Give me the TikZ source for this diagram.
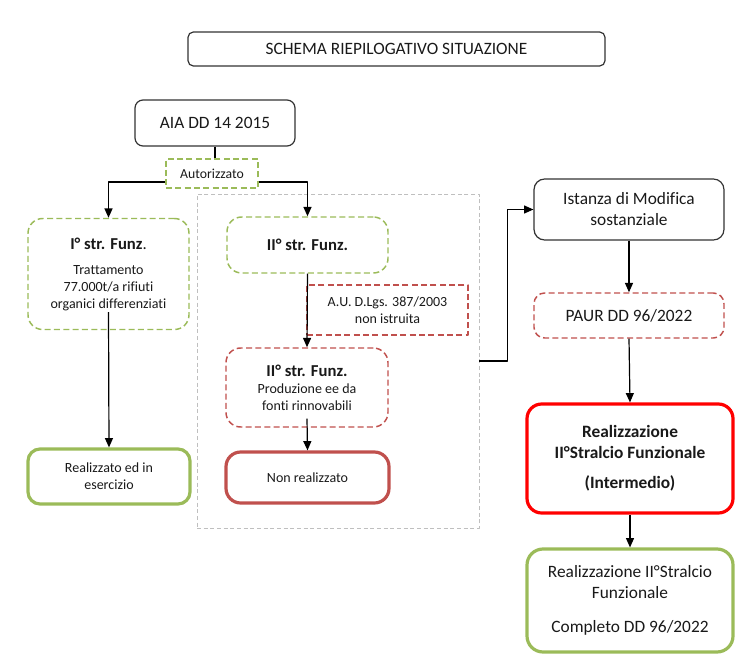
\documentclass[tikz,border=0pt]{standalone}
\usepackage{fontspec}
\setmainfont{Carlito}[Ligatures=NoCommon]
\usetikzlibrary{arrows.meta}
\definecolor{verde}{HTML}{9BBB59}
\definecolor{rosso}{HTML}{C0504D}
\definecolor{grigio}{HTML}{BFBFBF}
\begin{document}
\begin{tikzpicture}[x=0.75pt, y=-0.75pt, line join=round, >={Triangle[length=7pt,width=6pt]},
	font=\fontsize{10.5}{12.75}\selectfont,
	bsize/.style 2 args={minimum width=#1*0.75pt, minimum height=#2*0.75pt},
	base/.style={align=center, inner sep=0pt, text=black!90},
	nero/.style={base, draw=black!80, line width=0.9pt, rounded corners=6pt},
	verdetr/.style={base, draw=verde, line width=1.1pt, dash pattern=on 4.5pt off 2.5pt},
	rossotr/.style={base, draw=rosso, line width=1.1pt, dash pattern=on 4.5pt off 2.5pt},
	verdepieno/.style={base, draw=verde, line width=2.4pt, rounded corners=9pt},
	rossopieno/.style={base, draw=#1, line width=2.4pt, rounded corners=11pt},
	grande/.style={font=\fontsize{13}{15.75}\selectfont},
	freccia/.style={->, line width=0.9pt}]
	%Margini.
	\useasboundingbox (0,0) rectangle (748,666);
	%Riquadro grigio.
	\node[draw=grigio, line width=0.6pt, dash pattern=on 3pt off 2pt, bsize={282}{334}] (gruppo) at (338,361) {};
	%Nodi.
	\node[nero, rounded corners=4pt, bsize={417}{34}, font=\fontsize{13}{15}\selectfont] (titolo) at (396.5,49) {SCHEMA RIEPILOGATIVO SITUAZIONE};
	\node[nero, bsize={160}{46}, font=\fontsize{13}{15}\selectfont] (aia) at (215,123) {\raisebox{-3pt}{AIA DD 14 2015}};
	\node[verdetr, bsize={92}{29}, font=\fontsize{10.3}{12}\selectfont] (aut) at (212,173.5) {Autorizzato};
	\node[verdetr, rounded corners=11pt, bsize={161}{111}] (funz1) at (108.5,274)
		{{\fontsize{12.5}{15}\selectfont\bfseries I° str. Funz}{\fontsize{12.5}{15}\selectfont .}\\[6pt]Trattamento\\77.000t/a rifiuti\\organici differenziati};
	\node[verdepieno, bsize={162}{55}] (esercizio) at (109,476.5) {Realizzato ed in\\esercizio};
	\node[verdetr, rounded corners=11pt, bsize={161}{56}, font=\fontsize{12.5}{15}\selectfont\bfseries] (funz2) at (307.5,245) {II° str. Funz.};
	\node[rossotr, bsize={161}{50}] (au) at (387.5,310) {A.U. D.Lgs. 387/2003\\non istruita};
	\node[rossotr, rounded corners=11pt, bsize={162}{79}] (funz2b) at (307,387.5)
		{{\fontsize{12.5}{15}\selectfont\bfseries II° str. Funz.}\\Produzione ee da\\fonti rinnovabili};
	\node[rossopieno=rosso, bsize={163}{51}] (nonreal) at (307.5,477.5) {Non realizzato};
	\node[nero, rounded corners=8pt, bsize={190}{61}, grande] (istanza) at (629,209.5) {Istanza di Modifica\\sostanziale};
	\node[rossotr, rounded corners=8pt, bsize={190}{45}, grande] (paur) at (629,315.5) {PAUR DD 96/2022};
	\node[rossopieno=red, bsize={206}{109}, font=\fontsize{13}{15.75}\selectfont\bfseries] (intermedio) at (630,458.5)
		{Realizzazione\\II°Stralcio Funzionale\\[6.75pt](Intermedio)};
	\node[verdepieno, rounded corners=12pt, bsize={206}{103}, grande] (completo) at (630,600.5)
		{Realizzazione II°Stralcio\\Funzionale\\[9.75pt]Completo DD 96/2022};
	%Collegamenti.
	\draw[line width=0.9pt] (aia.south) -- (aia.south |- aut.north);
	\draw[freccia] ([yshift=-6.4pt]aut.west) -| (funz1.north);
	\draw[freccia] ([yshift=-6.4pt]aut.east) -| (funz2.north);
	\draw[freccia] ([yshift=13.5pt]funz1.south) -- (esercizio.north);
	\draw[freccia] (funz2.south) -- (funz2b.north);
	\draw[freccia] ([yshift=6.75pt]funz2b.south) -- (nonreal.north);
	\draw[freccia] (gruppo.east) -- ++(28,0) |- (istanza.west);
	\draw[freccia] (istanza.south) -- (paur.north);
	\draw[freccia] (paur.south) -- (intermedio.north);
	\draw[freccia] (intermedio.south) -- (completo.north);
\end{tikzpicture}
\end{document}
